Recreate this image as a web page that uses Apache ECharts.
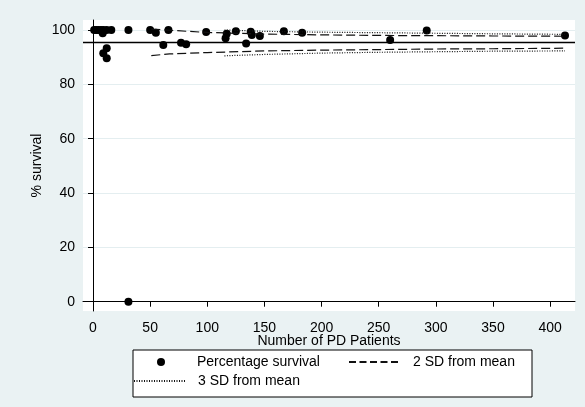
<!DOCTYPE html>
<html>
<head>
<meta charset="utf-8">
<script src="https://cdn.jsdelivr.net/npm/echarts@6/dist/echarts.min.js"></script>
<style>
  html, body { margin: 0; padding: 0; background: #eaf2f3; }
  #chart { width: 585px; height: 407px; }
</style>
</head>
<body>
<div id="chart"></div>
<script>
    // patients per centre and % survival
    const pdPatients = [1, 3, 5, 7, 9, 12, 16, 8.5, 12, 9, 12, 31, 31,
        50, 55, 61.5, 66, 77, 81.5, 99, 116, 117, 125, 134, 138, 139, 146,
        167, 183, 260, 292, 413];
    const pctSurvival = [100, 100, 100, 100, 100, 100, 100, 98.8, 93.3, 91.4, 89.6, 100, 0,
        100, 99, 94.5, 100, 95.3, 94.8, 99.3, 97, 98.6, 99.5, 95, 99.4, 98.2, 97.8,
        99.5, 99, 96.3, 99.8, 98];

    const meanSurvival = 95.4;

    // control limits
    const sd2N = [51, 67, 100, 150, 200, 250, 300, 350, 413];
    const sd2Upper = [100.3, 99.9, 99.1, 98.5, 98.2, 98.0, 97.9, 97.8, 97.7];
    const sd2Lower = [90.6, 91.2, 91.7, 92.3, 92.6, 92.8, 93.0, 93.1, 93.3];
    const sd3N = [115, 150, 200, 250, 300, 350, 413];
    const sd3Upper = [100.0, 99.5, 99.2, 99.0, 98.8, 98.6, 98.4];
    const sd3Lower = [90.5, 91.0, 91.5, 91.8, 92.0, 92.2, 92.3];

    const xTicks = [0, 50, 100, 150, 200, 250, 300, 350, 400];
    const yTicks = [0, 20, 40, 60, 80, 100];

    const pairs = function (xs, ys) {
        return xs.map(function (x, i) { return [x, ys[i]]; });
    };

    const fontFam = '"Liberation Sans", Arial, sans-serif';
    let myChart = echarts.init(document.getElementById('chart'));

    const limitLine = function (name, xs, ys, type) {
        return {
            name: name,
            type: 'line',
            data: pairs(xs, ys),
            symbol: 'none',
            silent: true,
            itemStyle: {color: '#111'},
            lineStyle: {color: '#111', width: 1.2, type: type}
        };
    };

    // one legend per entry so the two-column Stata layout can be placed by hand
    const legendText = function (gap) {
        return {color: '#000', fontSize: 14, fontFamily: fontFam, padding: [0, 0, 0, gap]};
    };
    const noDot = {color: 'rgba(0,0,0,0)', borderWidth: 0, opacity: 0};

    option = {
        backgroundColor: '#eaf2f3',
        animation: false,
        textStyle: {fontFamily: fontFam},
        grid: {
            left: 83, right: 10, top: 20, bottom: 96,
            show: true, backgroundColor: '#ffffff', borderWidth: 0
        },
        xAxis: {
            type: 'value',
            min: -8.75, max: 421.75,
            name: 'Number of PD Patients',
            nameLocation: 'middle',
            nameGap: 23,
            nameMoveOverlap: false,
            nameTextStyle: {color: '#000', fontSize: 14, fontFamily: fontFam},
            axisLine: {lineStyle: {color: '#000', width: 1}},
            axisTick: {customValues: xTicks, length: 5, lineStyle: {color: '#000'}},
            axisLabel: {customValues: xTicks, color: '#000', fontSize: 14, margin: 10, fontFamily: fontFam},
            splitLine: {show: false}
        },
        yAxis: {
            type: 'value',
            min: -3.42, max: 103.68,
            name: '% survival',
            nameLocation: 'middle',
            nameGap: 39,
            nameMoveOverlap: false,
            nameRotate: 90,
            nameTextStyle: {color: '#000', fontSize: 14, fontFamily: fontFam},
            axisLine: {show: true, lineStyle: {color: '#000', width: 1}},
            axisTick: {show: true, customValues: yTicks, length: 5, lineStyle: {color: '#000'}},
            axisLabel: {customValues: yTicks, color: '#000', fontSize: 14, margin: 8, fontFamily: fontFam},
            splitLine: {show: true, lineStyle: {color: '#e4eef0', width: 1}}
        },
        legend: [
            {
                data: [{name: 'Percentage survival', icon: 'circle'}],
                left: 157, top: 355, padding: 0,
                itemWidth: 8, itemHeight: 8,
                selectedMode: false,
                textStyle: legendText(27)
            },
            {
                data: [{name: '2 SD from mean', itemStyle: noDot, lineStyle: {type: [7, 3.5], color: '#111'}}],
                left: 348, top: 355, padding: 0,
                itemWidth: 52, itemHeight: 8,
                selectedMode: false,
                textStyle: legendText(7)
            },
            {
                data: [{name: '3 SD from mean', itemStyle: noDot, lineStyle: {type: [1, 1.5], color: '#111'}}],
                left: 133, top: 374, padding: 0,
                itemWidth: 52, itemHeight: 8,
                selectedMode: false,
                textStyle: legendText(7)
            }
        ],
        graphic: [{
            type: 'rect',
            z: -1,
            shape: {x: 133, y: 350, width: 399, height: 47},
            style: {fill: '#ffffff', stroke: '#000', lineWidth: 1}
        }],
        series: [
            limitLine('2 SD from mean', sd2N, sd2Upper, [9, 4]),
            limitLine('2 SD from mean', sd2N, sd2Lower, [9, 4]),
            limitLine('3 SD from mean', sd3N, sd3Upper, [1, 1.5]),
            limitLine('3 SD from mean', sd3N, sd3Lower, [1, 1.5]),
            {
                name: 'Percentage survival',
                type: 'scatter',
                data: pairs(pdPatients, pctSurvival),
                symbol: 'circle',
                symbolSize: 8,
                itemStyle: {color: '#000', opacity: 1},
                markLine: {
                    silent: true,
                    symbol: 'none',
                    label: {show: false},
                    lineStyle: {color: '#000', width: 1.3, type: 'solid'},
                    data: [{yAxis: meanSurvival}]
                }
            }
        ]
    };

    myChart.setOption(option);
</script>
</body>
</html>
